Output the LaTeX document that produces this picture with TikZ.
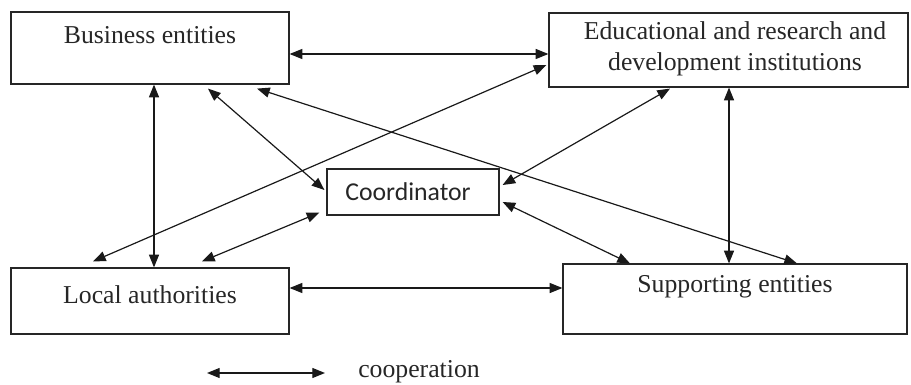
\documentclass[tikz,border=0pt]{standalone}
\usepackage{fontspec}
\setmainfont{Liberation Serif}
\newfontfamily\carlitofont{Carlito}
\usetikzlibrary{arrows.meta,calc}
\begin{document}
\begin{tikzpicture}[x=0.75pt,y=-0.75pt,
  box/.style={draw=black!85,line width=0.9pt,rectangle,inner sep=0pt},
  lbl/.style={font=\fontsize{19.3pt}{23pt}\selectfont,text=black!85,inner sep=0pt,align=center},
  coop/.style={draw=black!90,line width=0.9pt,{Triangle[length=9.5pt,width=7.5pt]}-{Triangle[length=9.5pt,width=7.5pt]}}]
\useasboundingbox (0,0) rectangle (911,385);
% boxes
\node[box,minimum width=208.5pt,minimum height=54pt] (be) at (150,48) {};
\node[box,minimum width=269.25pt,minimum height=55.5pt] (ed) at (728.5,50) {};
\node[box,minimum width=208.5pt,minimum height=49.5pt] (la) at (150,301) {};
\node[box,minimum width=258pt,minimum height=52.5pt] (se) at (735,299) {};
\node[box,minimum width=129pt,minimum height=34.5pt] (co) at (413,192) {};
% texts
\node[lbl] (beT) at (150,35) {Business entities};
\node[lbl] (edT) at (735,49) {Educational and research and\\development institutions};
\node[lbl] (laT) at (150,295) {Local authorities};
\node[lbl] (seT) at (735,287) {Supporting entities};
\node[lbl,font=\carlitofont\fontsize{19.3pt}{23pt}\selectfont] (coT) at (408,192) {Coordinator};
% connectors
\draw[coop] ($(be.east)+(0,6)$) -- ($(ed.west)+(0,4)$);
\draw[coop] ($(be.south)+(4,0)$) -- ($(la.north)+(4,0)$);
\draw[coop] ($(be.south)+(58,4)$) -- ($(co.west)+(-2,-2)$);
\draw[coop] ($(be.south)+(107,4)$) -- ($(se.north)+(62,0)$);
\draw[coop] ($(ed.west)+(-2,15)$) -- ($(la.north)+(-57,-6)$);
\draw[coop] ($(ed.south)+(-58.5,1)$) -- ($(co.east)+(3,-7)$);
\draw[coop] ($(ed.south)+(0.5,0)$) -- ($(se.north)+(-6,0)$);
\draw[coop] ($(co.south west)+(-7,-3)$) -- ($(la.north)+(52,-6)$);
\draw[coop] ($(co.east)+(3,10)$) -- ($(se.north)+(-105,0)$);
\draw[coop] ($(la.east)+(0,-13)$) -- ($(se.west)+(0,-11)$);
% legend
\coordinate (legA) at (207,373);
\coordinate (legB) at (325,373);
\draw[coop] (legA) -- (legB);
\node[lbl] (legT) at (419,372) {cooperation};
\end{tikzpicture}
\end{document}
